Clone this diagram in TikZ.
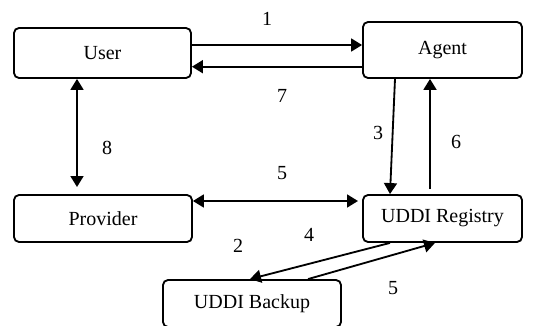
\documentclass[tikz,border=0pt]{standalone}
\usepackage{fontspec}
\setmainfont{Liberation Serif}
\usetikzlibrary{arrows.meta}

\begin{document}
\begin{tikzpicture}[x=0.6pt, y=-0.6pt, >={Triangle[length=6.6pt,width=7.8pt]},
	box/.style={draw, line width=1.1pt, rounded corners=3pt, inner sep=0pt, font=\fontsize{12}{14}\selectfont},
	link/.style={line width=1.1pt, ->},
	num/.style={font=\fontsize{12}{14}\selectfont}]
	\useasboundingbox (0,0) rectangle (555,326);
	\node[box, minimum width=106.2pt, minimum height=30pt] (user) at (102.5,53) {User};
	\node[box, minimum width=95.4pt, minimum height=33.6pt] (agent) at (442.5,50) {Agent};
	\node[box, minimum width=106.8pt, minimum height=28.2pt] (provider) at (103,218.5) {Provider};
	\node[box, minimum width=95.4pt, minimum height=28.2pt] (registry) at (442.5,218.5) {UDDI Registry};
	\node[box, minimum width=106.8pt, minimum height=28.2pt] (backup) at (252,303.5) {UDDI Backup};
	\coordinate (provtop) at (77,187);
	\coordinate (regwest) at (358,201);
	\coordinate (regtop) at (430,189);
	\draw[link] (user.east |- 0,45) -- (agent.west |- 0,45);
	\draw[link] (agent.west |- 0,66.7) -- (user.east |- 0,66.7);
	\draw[link, <->] (user.south -| provtop) -- (provtop);
	\draw[link, <->] (provider.east |- regwest) -- (regwest);
	\draw[link] (agent.south -| 395,0) -- (registry.north -| 390,0);
	\draw[link] (regtop) -- (agent.south -| regtop);
	\draw[link] (registry.south -| 390,0) -- (backup.north -| 250,0);
	\draw[link] (backup.north -| 308,0) -- (registry.south -| 435,0);
	\node[num] (n1) at (267,19) {1};
	\node[num] (n7) at (282,96) {7};
	\node[num] (n8) at (107,148) {8};
	\node[num] (n5a) at (282,173) {5};
	\node[num] (n3) at (378,133) {3};
	\node[num] (n6) at (456,142) {6};
	\node[num] (n2) at (238,246) {2};
	\node[num] (n4) at (309,235) {4};
	\node[num] (n5b) at (393,288) {5};
\end{tikzpicture}
\end{document}
